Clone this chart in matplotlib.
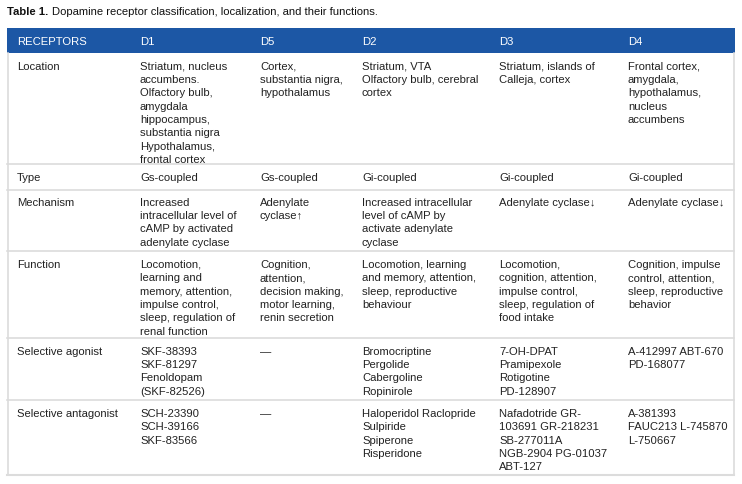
import matplotlib
matplotlib.use("Agg")
import matplotlib.pyplot as plt

FAM = ['Liberation Sans', 'DejaVu Sans']

title_bold = "Table 1."
title_rest = "Dopamine receptor classification, localization, and their functions."

headers = ["RECEPTORS", "D1", "D5", "D2", "D3", "D4"]

row_labels = ["Location", "Type", "Mechanism", "Function",
              "Selective agonist", "Selective antagonist"]

d1 = ["Striatum, nucleus\naccumbens.\nOlfactory bulb,\namygdala\nhippocampus,\nsubstantia nigra\nHypothalamus,\nfrontal cortex",
      "Gs-coupled",
      "Increased\nintracellular level of\ncAMP by activated\nadenylate cyclase",
      "Locomotion,\nlearning and\nmemory, attention,\nimpulse control,\nsleep, regulation of\nrenal function",
      "SKF-38393\nSKF-81297\nFenoldopam\n(SKF-82526)",
      "SCH-23390\nSCH-39166\nSKF-83566"]
d5 = ["Cortex,\nsubstantia nigra,\nhypothalamus",
      "Gs-coupled",
      "Adenylate\ncyclase\u2191",
      "Cognition,\nattention,\ndecision making,\nmotor learning,\nrenin secretion",
      "\u2014",
      "\u2014"]
d2 = ["Striatum, VTA\nOlfactory bulb, cerebral\ncortex",
      "Gi-coupled",
      "Increased intracellular\nlevel of cAMP by\nactivate adenylate\ncyclase",
      "Locomotion, learning\nand memory, attention,\nsleep, reproductive\nbehaviour",
      "Bromocriptine\nPergolide\nCabergoline\nRopinirole",
      "Haloperidol Raclopride\nSulpiride\nSpiperone\nRisperidone"]
d3 = ["Striatum, islands of\nCalleja, cortex",
      "Gi-coupled",
      "Adenylate cyclase\u2193",
      "Locomotion,\ncognition, attention,\nimpulse control,\nsleep, regulation of\nfood intake",
      "7-OH-DPAT\nPramipexole\nRotigotine\nPD-128907",
      "Nafadotride GR-\n103691 GR-218231\nSB-277011A\nNGB-2904 PG-01037\nABT-127"]
d4 = ["Frontal cortex,\namygdala,\nhypothalamus,\nnucleus\naccumbens",
      "Gi-coupled",
      "Adenylate cyclase\u2193",
      "Cognition, impulse\ncontrol, attention,\nsleep, reproductive\nbehavior",
      "A-412997 ABT-670\nPD-168077",
      "A-381393\nFAUC213 L-745870\nL-750667"]

columns = [row_labels, d1, d5, d2, d3, d4]

# layout (pixels)
W, H = 742, 485
col_x = [17, 140, 260, 362, 499, 628]
row_first_y = [66.7, 178, 202.7, 265, 351.7, 414]
row_sep_y = [165, 190.7, 252.3, 339, 401]
LINE_H = 13.33
FS = 8.1
BLUE = '#1c57a5'
TXT = '#222222'
GRID = '#dcdcdc'

fig = plt.figure(figsize=(W / 100, H / 100), dpi=100)
ax = fig.add_axes([0, 0, 1, 1])
ax.set_xlim(0, W)
ax.set_ylim(H, 0)
ax.axis('off')

# title
t1 = ax.text(7, 12, title_bold, fontsize=FS, fontweight='bold', family=FAM,
             color='#111111', va='center', ha='left')
fig.canvas.draw()
bb = t1.get_window_extent()
x_end = ax.transData.inverted().transform((bb.x1, bb.y0))[0]
ax.text(x_end + 4, 12, title_rest, fontsize=FS, family=FAM, color='#111111',
        va='center', ha='left')

# header bar
ax.add_patch(plt.Rectangle((7, 29), 728, 25, facecolor=BLUE, edgecolor='none'))
for x, h in zip(col_x, headers):
    ax.text(x, 42, h, fontsize=FS, family=FAM, color='white', va='center', ha='left')

# borders
ax.plot([7.5, 7.5], [54, 475.5], color=GRID, lw=1.2)
ax.plot([733.5, 733.5], [54, 475.5], color=GRID, lw=1.2)
ax.plot([7, 734], [475.5, 475.5], color=GRID, lw=1.5)
for y in row_sep_y:
    ax.plot([7, 734], [y, y], color=GRID, lw=1.2)

# cells
for x, col in zip(col_x, columns):
    for y0, cell in zip(row_first_y, col):
        for i, line in enumerate(cell.split("\n")):
            ax.text(x, y0 + i * LINE_H, line, fontsize=FS, family=FAM, color=TXT,
                    va='center', ha='left')

fig.savefig("out.png", dpi=100, facecolor='white')
